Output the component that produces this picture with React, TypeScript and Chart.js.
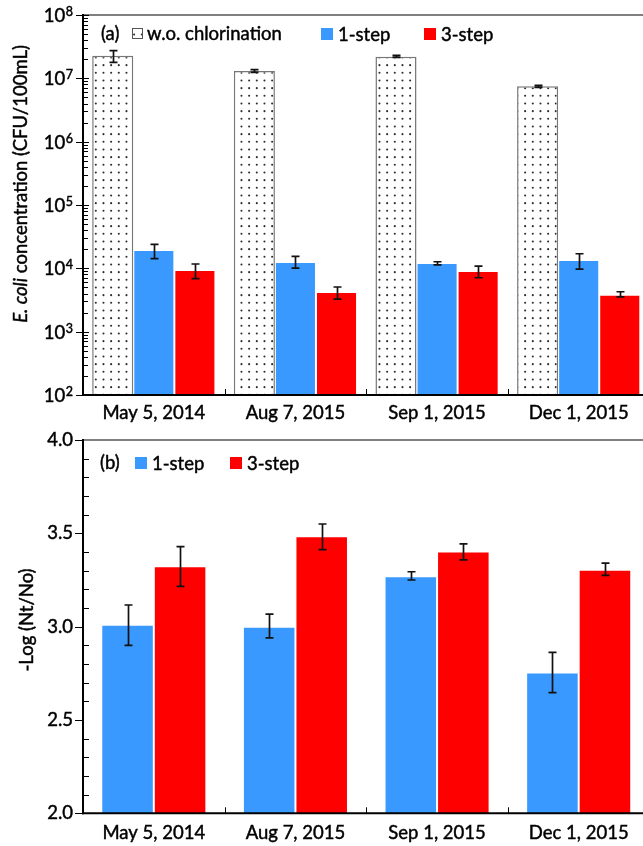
import React, { useEffect, useRef } from 'react';
import { Chart, registerables } from 'chart.js';

Chart.register(...registerables);

const FONT = 'Lato, "Open Sans", "DejaVu Sans", sans-serif';
const BLUE = '#3a99ff';
const RED = '#ff0000';

// ---------- data ----------
const categories = ['May 5, 2014', 'Aug 7, 2015', 'Sep 1, 2015', 'Dec 1, 2015'];

// Panel (a): E. coli concentration (CFU/100mL)
const woChlorination = [2.28e7, 1.31e7, 2.2e7, 7.48e6];
const woLow = [1.79e7, 1.24e7, 2.15e7, 7.21e6];
const woHigh = [2.73e7, 1.37e7, 2.31e7, 7.76e6];
const oneStepConc = [1.95e4, 1.26e4, 1.21e4, 1.35e4];
const oneStepConcLow = [1.42e4, 1.01e4, 1.13e4, 9.75e3];
const oneStepConcHigh = [2.39e4, 1.55e4, 1.27e4, 1.7e4];
const threeStepConc = [9.4e3, 4.23e3, 9.08e3, 3.84e3];
const threeStepConcLow = [6.9e3, 3.27e3, 7.1e3, 3.55e3];
const threeStepConcHigh = [1.17e4, 5.07e3, 1.08e4, 4.27e3];

// Panel (b): -Log (Nt/No)
const oneStepLog = [3.01, 3.0, 3.27, 2.755];
const oneStepLogLow = [2.9, 2.94, 3.25, 2.647];
const oneStepLogHigh = [3.116, 3.067, 3.294, 2.862];
const threeStepLog = [3.324, 3.484, 3.403, 3.305];
const threeStepLogLow = [3.216, 3.413, 3.358, 3.275];
const threeStepLogHigh = [3.429, 3.55, 3.444, 3.34];

// Axis ticks
const logExponents = [2, 3, 4, 5, 6, 7, 8];
const linTickLabels = ['2.0', '2.5', '3.0', '3.5', '4.0'];
const linMinorTicks = [2.1, 2.2, 2.3, 2.4, 2.6, 2.7, 2.8, 2.9, 3.1, 3.2, 3.3, 3.4, 3.6, 3.7, 3.8, 3.9];

const seriesLabels = ['w.o. chlorination', '1-step', '3-step'];

// ---------- helpers ----------
function line(ctx: CanvasRenderingContext2D, x1: number, y1: number, x2: number, y2: number) {
  ctx.beginPath();
  ctx.moveTo(x1, y1);
  ctx.lineTo(x2, y2);
  ctx.stroke();
}

function text(ctx: CanvasRenderingContext2D, s: string, x: number, y: number) {
  ctx.save();
  ctx.fillStyle = '#000';
  ctx.strokeStyle = '#000';
  ctx.lineWidth = 0.45;
  ctx.fillText(s, x, y);
  ctx.strokeText(s, x, y);
  ctx.restore();
}

function makeDotTile(): HTMLCanvasElement {
  const c = document.createElement('canvas');
  c.width = 23;
  c.height = 23;
  const g = c.getContext('2d')!;
  g.fillStyle = '#fff';
  g.fillRect(0, 0, 23, 23);
  g.fillStyle = '#2e2e2e';
  for (let i = 0; i < 3; i++) {
    for (let j = 0; j < 3; j++) {
      g.beginPath();
      g.arc(3.8 + i * 7.67, 3.8 + j * 7.67, 1.05, 0, Math.PI * 2);
      g.fill();
    }
  }
  return c;
}

function drawErrorBars(chart: any, lows: number[][], highs: number[][]) {
  const ctx: CanvasRenderingContext2D = chart.ctx;
  const y = chart.scales.y;
  ctx.save();
  ctx.strokeStyle = '#111';
  ctx.lineWidth = 1.7;
  chart.data.datasets.forEach((_ds: any, di: number) => {
    const meta = chart.getDatasetMeta(di);
    meta.data.forEach((bar: any, i: number) => {
      const x = Math.round(bar.x) + 0.5;
      const yl = y.getPixelForValue(lows[di][i]);
      const yh = y.getPixelForValue(highs[di][i]);
      ctx.beginPath();
      ctx.moveTo(x, yl);
      ctx.lineTo(x, yh);
      ctx.moveTo(x - 4, yl);
      ctx.lineTo(x + 4, yl);
      ctx.moveTo(x - 4, yh);
      ctx.lineTo(x + 4, yh);
      ctx.stroke();
    });
  });
  ctx.restore();
}

function drawFrameAndCategories(chart: any, labelY: number) {
  const ctx: CanvasRenderingContext2D = chart.ctx;
  const a = chart.chartArea;
  const x = chart.scales.x;
  ctx.save();
  ctx.strokeStyle = '#555';
  ctx.lineWidth = 1.5;
  line(ctx, a.left, a.top, a.right + 20, a.top);
  ctx.strokeStyle = '#000';
  ctx.lineWidth = 2;
  line(ctx, a.left, a.top - 1, a.left, a.bottom + 1);
  line(ctx, a.left - 1, a.bottom, a.right + 20, a.bottom);
  ctx.lineWidth = 1;
  for (let i = 1; i < categories.length; i++) {
    const px = Math.round((x.getPixelForValue(i - 1) + x.getPixelForValue(i)) / 2) + 0.5;
    line(ctx, px, a.bottom, px, a.bottom - 6);
  }
  ctx.font = `18.5px ${FONT}`;
  ctx.textAlign = 'center';
  ctx.textBaseline = 'middle';
  categories.forEach((c, i) => {
    text(ctx, c, x.getPixelForValue(i), labelY);
  });
  ctx.restore();
}

function drawLegendItem(ctx: CanvasRenderingContext2D, x: number, y: number, fill: any, label: string, small = false) {
  if (small) {
    ctx.fillStyle = fill;
    ctx.fillRect(x, y - 5, 10, 10);
    ctx.strokeStyle = '#555';
    ctx.lineWidth = 1;
    ctx.strokeRect(x + 0.5, y - 4.5, 10, 10);
  } else {
    ctx.fillStyle = fill;
    ctx.fillRect(x, y - 6, 12, 12);
  }
  ctx.textAlign = 'left';
  ctx.textBaseline = 'middle';
  text(ctx, label, x + (small ? 15 : 17), y + 1);
}

// ---------- component ----------
export default function App() {
  const topRef = useRef<HTMLCanvasElement>(null);
  const botRef = useRef<HTMLCanvasElement>(null);

  useEffect(() => {
    const topCanvas = topRef.current!;
    const botCanvas = botRef.current!;
    const tile = makeDotTile();
    const pattern = topCanvas.getContext('2d')!.createPattern(tile, 'repeat');

    const topPlugin = {
      id: 'topOverlay',
      afterDatasetsDraw(chart: any) {
        drawErrorBars(chart, [woLow, oneStepConcLow, threeStepConcLow], [woHigh, oneStepConcHigh, threeStepConcHigh]);
      },
      afterDraw(chart: any) {
        const ctx: CanvasRenderingContext2D = chart.ctx;
        const a = chart.chartArea;
        const y = chart.scales.y;
        drawFrameAndCategories(chart, 413);
        ctx.save();
        ctx.strokeStyle = '#000';
        ctx.lineWidth = 1;
        logExponents.forEach((e) => {
          for (let m = 1; m <= 9; m++) {
            const v = m * Math.pow(10, e);
            if (v > 1e8) break;
            const py = Math.round(y.getPixelForValue(v)) + 0.5;
            if (m === 1) line(ctx, a.left - 7, py, a.left + 6, py);
            else line(ctx, a.left, py, a.left + 5, py);
          }
        });
        // tick labels 10^n
        ctx.textBaseline = 'alphabetic';
        logExponents.forEach((e) => {
          const py = y.getPixelForValue(Math.pow(10, e));
          ctx.font = `12.5px ${FONT}`;
          ctx.textAlign = 'right';
          const ew = ctx.measureText(String(e)).width;
          text(ctx, String(e), 73, py + 1);
          ctx.font = `18.5px ${FONT}`;
          text(ctx, '10', 73 - ew - 0.5, py + 7);
        });
        // y title
        ctx.save();
        ctx.translate(21, 184);
        ctx.rotate(-Math.PI / 2);
        ctx.textBaseline = 'middle';
        ctx.textAlign = 'left';
        const t1 = 'E. coli';
        const t2 = ' concentration (CFU/100mL)';
        ctx.font = `italic 18.5px ${FONT}`;
        const w1 = ctx.measureText(t1).width;
        ctx.font = `18.5px ${FONT}`;
        const w2 = ctx.measureText(t2).width;
        const start = -(w1 + w2) / 2;
        ctx.font = `italic 18.5px ${FONT}`;
        text(ctx, t1, start, 0);
        ctx.font = `18.5px ${FONT}`;
        text(ctx, t2, start + w1, 0);
        ctx.restore();
        // legend
        ctx.font = `18.5px ${FONT}`;
        ctx.textAlign = 'left';
        ctx.textBaseline = 'middle';
        text(ctx, '(a)', 101, 34);
        drawLegendItem(ctx, 132, 33, pattern, seriesLabels[0], true);
        drawLegendItem(ctx, 321, 34, BLUE, seriesLabels[1]);
        drawLegendItem(ctx, 424, 34, RED, seriesLabels[2]);
        ctx.restore();
      },
    };

    const botPlugin = {
      id: 'botOverlay',
      afterDatasetsDraw(chart: any) {
        drawErrorBars(chart, [oneStepLogLow, threeStepLogLow], [oneStepLogHigh, threeStepLogHigh]);
      },
      afterDraw(chart: any) {
        const ctx: CanvasRenderingContext2D = chart.ctx;
        const a = chart.chartArea;
        const y = chart.scales.y;
        drawFrameAndCategories(chart, 408);
        ctx.save();
        ctx.strokeStyle = '#000';
        ctx.lineWidth = 1;
        linTickLabels.forEach((t) => {
          const py = Math.round(y.getPixelForValue(parseFloat(t))) + 0.5;
          line(ctx, a.left - 8, py, a.left, py);
        });
        linMinorTicks.forEach((v) => {
          const py = Math.round(y.getPixelForValue(v)) + 0.5;
          line(ctx, a.left, py, a.left + 6, py);
        });
        ctx.font = `18.5px ${FONT}`;
        ctx.textAlign = 'right';
        ctx.textBaseline = 'middle';
        linTickLabels.forEach((t) => {
          text(ctx, t, 73, y.getPixelForValue(parseFloat(t)));
        });
        // y title
        ctx.save();
        ctx.translate(27, 195);
        ctx.rotate(-Math.PI / 2);
        ctx.textAlign = 'center';
        ctx.textBaseline = 'middle';
        text(ctx, '-Log (Nt/No)', 0, 0);
        ctx.restore();
        // legend
        ctx.textAlign = 'left';
        text(ctx, '(b)', 100, 38);
        drawLegendItem(ctx, 135, 38, BLUE, seriesLabels[1]);
        drawLegendItem(ctx, 230, 38, RED, seriesLabels[2]);
        ctx.restore();
      },
    };

    const top = new Chart(topCanvas, {
      type: 'bar',
      data: {
        labels: categories,
        datasets: [
          { label: seriesLabels[0], data: woChlorination, backgroundColor: pattern as any, borderColor: '#777', borderWidth: 1.5 },
          { label: seriesLabels[1], data: oneStepConc, backgroundColor: BLUE, borderColor: 'rgba(255,255,255,0.35)', borderWidth: 1 },
          { label: seriesLabels[2], data: threeStepConc, backgroundColor: RED, borderColor: 'rgba(255,255,255,0.35)', borderWidth: 1 },
        ],
      },
      options: {
        responsive: false,
        animation: false,
        devicePixelRatio: 1,
        layout: { padding: { left: 83, top: 15, right: 10.5, bottom: 30 } },
        datasets: { bar: { categoryPercentage: 0.87, barPercentage: 1 } },
        plugins: { legend: { display: false }, tooltip: { enabled: false } },
        scales: {
          x: { display: false },
          y: { type: 'logarithmic', display: false, min: 1e2, max: 1e8 },
        },
      },
      plugins: [topPlugin],
    } as any);

    const bot = new Chart(botCanvas, {
      type: 'bar',
      data: {
        labels: categories,
        datasets: [
          { label: seriesLabels[1], data: oneStepLog, backgroundColor: BLUE, borderColor: 'rgba(255,255,255,0.35)', borderWidth: 1 },
          { label: seriesLabels[2], data: threeStepLog, backgroundColor: RED, borderColor: 'rgba(255,255,255,0.35)', borderWidth: 1 },
        ],
      },
      options: {
        responsive: false,
        animation: false,
        devicePixelRatio: 1,
        layout: { padding: { left: 83, top: 15, right: 10.5, bottom: 32.7 } },
        datasets: { bar: { categoryPercentage: 0.742, barPercentage: 1 } },
        plugins: { legend: { display: false }, tooltip: { enabled: false } },
        scales: {
          x: { display: false },
          y: { type: 'linear', display: false, min: 2, max: 4 },
        },
      },
      plugins: [botPlugin],
    } as any);

    return () => {
      top.destroy();
      bot.destroy();
    };
  }, []);

  return (
    <div style={{ position: 'fixed', left: 0, top: 0, width: 643, height: 846, overflow: 'hidden', background: '#fff' }}>
      <canvas ref={topRef} width={660} height={425} style={{ position: 'absolute', left: 0, top: 0, width: 660, height: 425 }} />
      <canvas ref={botRef} width={660} height={421} style={{ position: 'absolute', left: 0, top: 425, width: 660, height: 421 }} />
    </div>
  );
}
